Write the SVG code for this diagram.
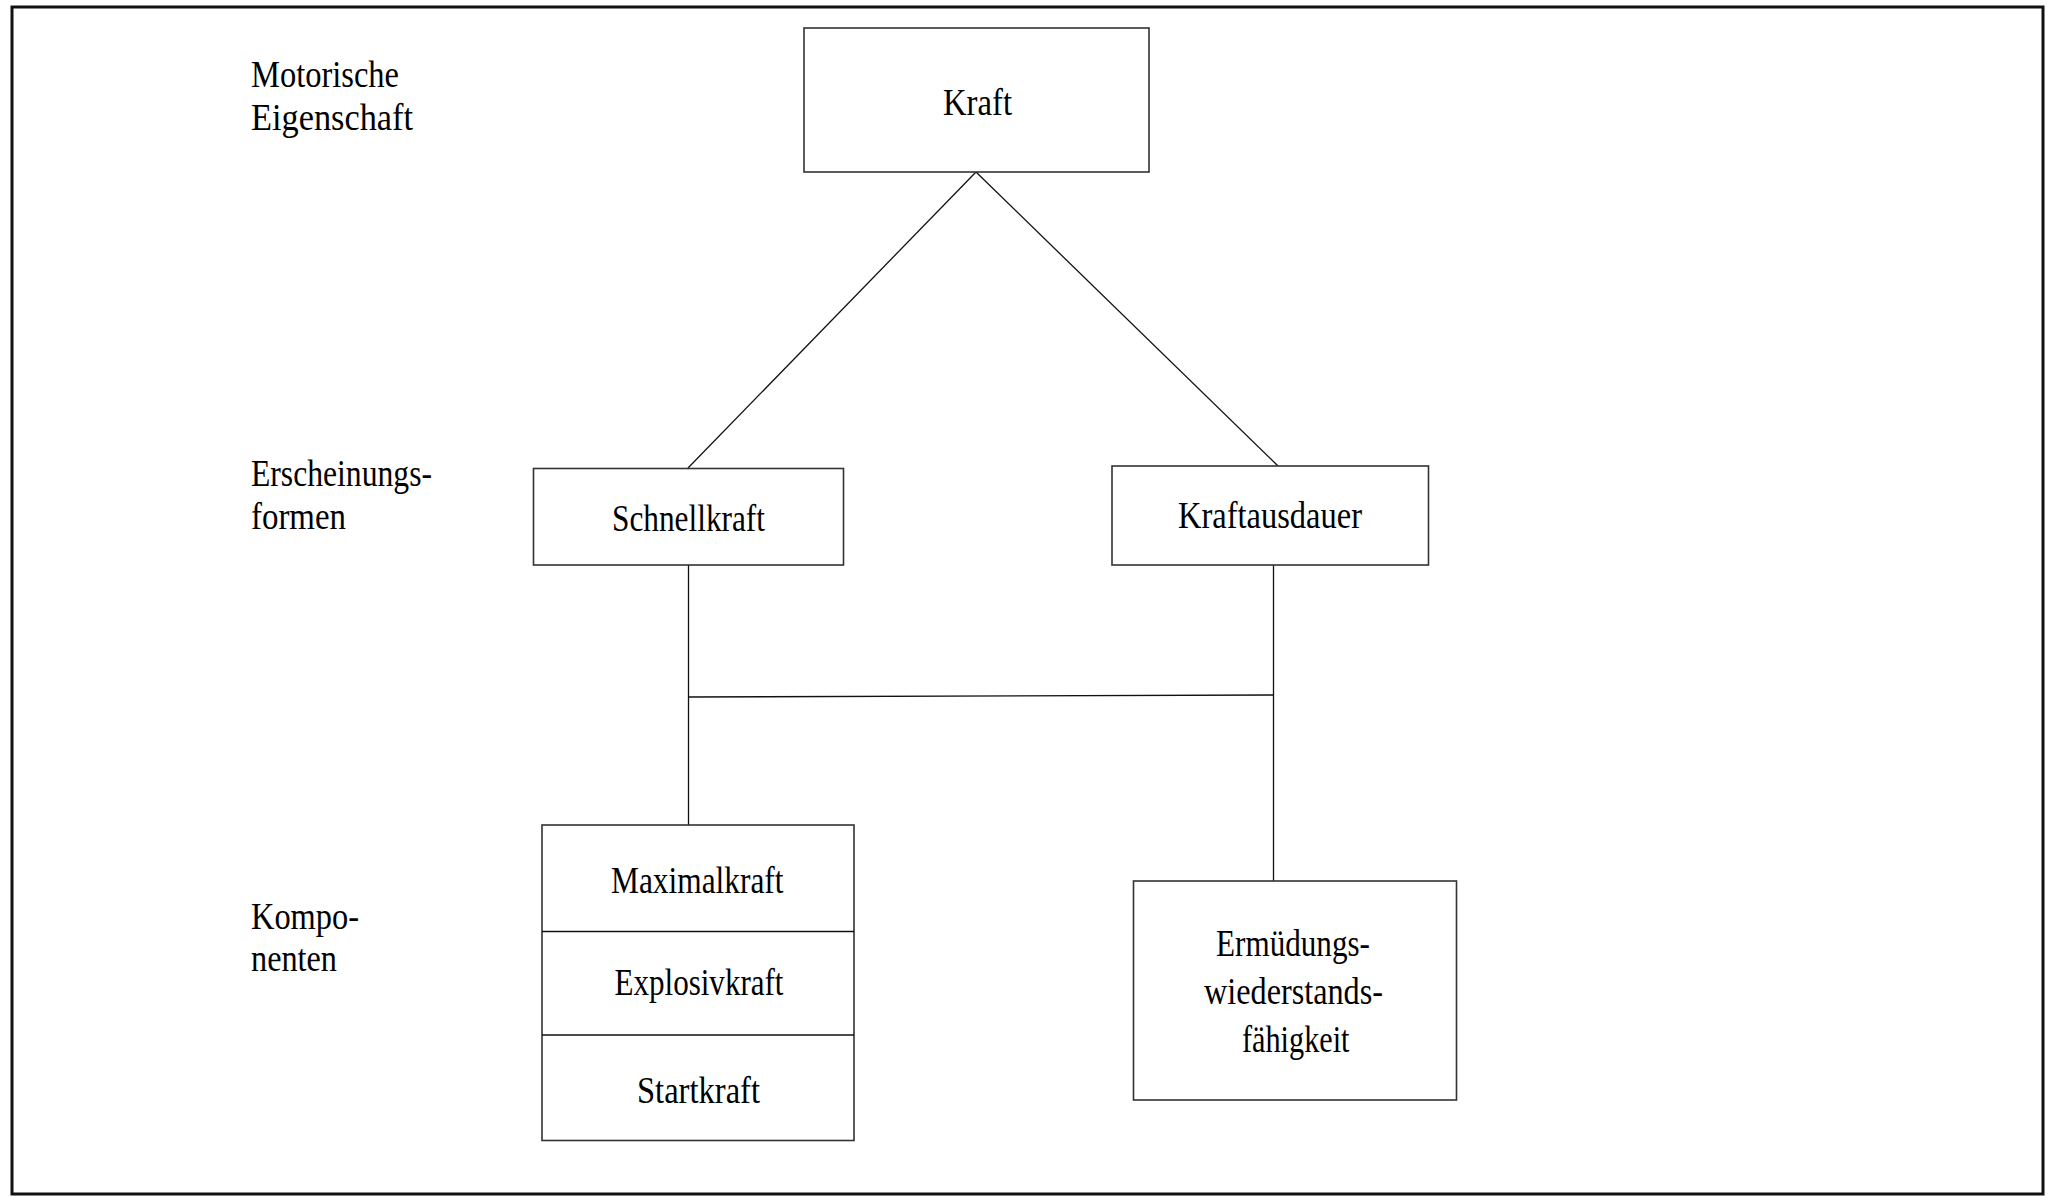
<svg xmlns="http://www.w3.org/2000/svg" width="2056" height="1196" viewBox="0 0 2056 1196">
<style>
.box{fill:#fff;stroke:#333;stroke-width:1.6}
.ln{fill:none;stroke:#111;stroke-width:1.3}
text{font-family:"Liberation Serif","Times New Roman",serif;font-size:38px;fill:#000}
</style>
<rect width="2056" height="1196" fill="#fff"/>
<rect x="12" y="7" width="2031" height="1187" fill="none" stroke="#111" stroke-width="3"/>
<g id="labels">
<text x="251" y="86.5" textLength="148" lengthAdjust="spacingAndGlyphs">Motorische</text>
<text x="251" y="129.5" textLength="162" lengthAdjust="spacingAndGlyphs">Eigenschaft</text>
<text x="251" y="486" textLength="181" lengthAdjust="spacingAndGlyphs">Erscheinungs-</text>
<text x="251" y="529" textLength="95" lengthAdjust="spacingAndGlyphs">formen</text>
<text x="251" y="929" textLength="108" lengthAdjust="spacingAndGlyphs">Kompo-</text>
<text x="251" y="971" textLength="86" lengthAdjust="spacingAndGlyphs">nenten</text>
</g>
<g id="connectors">
<line class="ln" x1="976" y1="172" x2="688" y2="468"/>
<line class="ln" x1="976" y1="172" x2="1278" y2="466"/>
<line class="ln" x1="688.5" y1="565" x2="688.5" y2="825"/>
<line class="ln" x1="688.5" y1="697" x2="1273.5" y2="695"/>
<line class="ln" x1="1273.5" y1="565" x2="1273.5" y2="881"/>
</g>
<g id="kraft">
<rect class="box" x="804" y="28" width="345" height="144"/>
<text x="943" y="114.5" textLength="69" lengthAdjust="spacingAndGlyphs">Kraft</text>
</g>
<g id="schnellkraft">
<rect class="box" x="533.5" y="468.5" width="310" height="96.5"/>
<text x="612" y="531" textLength="153" lengthAdjust="spacingAndGlyphs">Schnellkraft</text>
</g>
<g id="kraftausdauer">
<rect class="box" x="1112" y="466" width="316.5" height="99"/>
<text x="1178" y="528" textLength="184" lengthAdjust="spacingAndGlyphs">Kraftausdauer</text>
</g>
<g id="komponenten-schnellkraft">
<rect class="box" x="542" y="825" width="312" height="315.5"/>
<line class="ln" x1="542" y1="931.5" x2="854" y2="931.5"/>
<line class="ln" x1="542" y1="1035" x2="854" y2="1035"/>
<text x="611" y="893" textLength="172.5" lengthAdjust="spacingAndGlyphs">Maximalkraft</text>
<text x="614.5" y="995" textLength="169" lengthAdjust="spacingAndGlyphs">Explosivkraft</text>
<text x="637" y="1103" textLength="123" lengthAdjust="spacingAndGlyphs">Startkraft</text>
</g>
<g id="ermuedung">
<rect class="box" x="1133.5" y="881" width="323" height="219"/>
<text x="1216" y="956" textLength="154" lengthAdjust="spacingAndGlyphs">Ermüdungs-</text>
<text x="1204" y="1004" textLength="179" lengthAdjust="spacingAndGlyphs">wiederstands-</text>
<text x="1242" y="1052" textLength="107.5" lengthAdjust="spacingAndGlyphs">fähigkeit</text>
</g>
</svg>
